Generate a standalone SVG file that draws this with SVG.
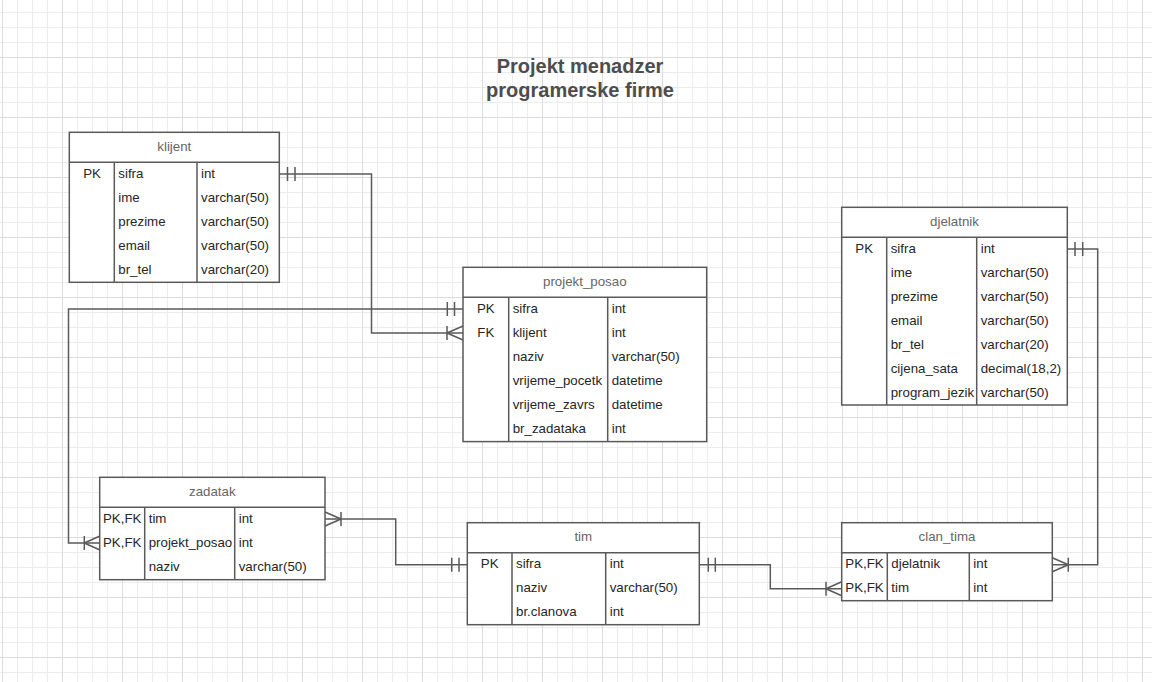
<svg xmlns="http://www.w3.org/2000/svg" width="1152" height="682" viewBox="0 0 1152 682">
<defs>
<pattern id="grid" x="2" y="-3" width="60" height="60" patternUnits="userSpaceOnUse">
<rect x="15" y="0" width="1" height="60" fill="#ececec"/>
<rect x="30" y="0" width="1" height="60" fill="#ececec"/>
<rect x="45" y="0" width="1" height="60" fill="#ececec"/>
<rect x="0" y="15" width="60" height="1" fill="#ececec"/>
<rect x="0" y="30" width="60" height="1" fill="#ececec"/>
<rect x="0" y="45" width="60" height="1" fill="#ececec"/>
<rect x="0" y="0" width="1" height="60" fill="#dcdcdc"/>
<rect x="0" y="0" width="60" height="1" fill="#dcdcdc"/>
</pattern>
</defs>
<style>
.box{fill:#fff;stroke:#5a5a5a;stroke-width:1.5}
.ln{fill:none;stroke:#5a5a5a;stroke-width:1.5}
.hd{font-family:"Liberation Sans",Arial,sans-serif;font-size:13.3px;fill:#666;text-anchor:middle}
.t{font-family:"Liberation Sans",Arial,sans-serif;font-size:13.3px;fill:#262626}
.k{font-family:"Liberation Sans",Arial,sans-serif;font-size:13.3px;fill:#262626;text-anchor:middle}
.title{font-family:"Liberation Sans",Arial,sans-serif;font-size:20px;font-weight:bold;fill:#4d4d4d;text-anchor:middle}
.c{fill:none;stroke:#5a5a5a;stroke-width:1.5}
</style>
<rect width="1152" height="682" fill="#fff"/>
<rect width="1152" height="682" fill="url(#grid)"/>

<text class="title" x="580" y="73">Projekt menadzer</text>
<text class="title" x="580" y="97">programerske firme</text>

<g id="connectors">
<path class="c" d="M279,174 H371.5 V333 H463"/>
<path class="c" d="M287.5,167 V181 M295,167 V181"/>
<path class="c" d="M447,326 V340 M447,333 L463,326 M447,333 L463,340"/>
<path class="c" d="M463,309 H68.5 V543 H100"/>
<path class="c" d="M447.3,302 V316 M454.5,302 V316"/>
<path class="c" d="M84.3,536 V550 M84.3,543 L100,536 M84.3,543 L100,550"/>
<path class="c" d="M325,519 H395.7 V564.7 H467.3"/>
<path class="c" d="M341,512 V526 M341,519 L325,512 M341,519 L325,526"/>
<path class="c" d="M451.7,557.7 V571.7 M459,557.7 V571.7"/>
<path class="c" d="M699.3,564.7 H770.3 V588.7 H841.7"/>
<path class="c" d="M708.3,557.7 V571.7 M715.3,557.7 V571.7"/>
<path class="c" d="M826,581.7 V595.7 M826,588.7 L841.7,581.7 M826,588.7 L841.7,595.7"/>
<path class="c" d="M1067.3,249 H1097.7 V564.7 H1052.3"/>
<path class="c" d="M1075,242 V256 M1082.7,242 V256"/>
<path class="c" d="M1068.3,557.7 V571.7 M1068.3,564.7 L1052.3,557.7 M1068.3,564.7 L1052.3,571.7"/>
</g>

<g id="klijent">
<rect class="box" x="69.3" y="132.3" width="210" height="150"/>
<path class="ln" d="M69.3,162.3 H279.3 M114.3,162.3 V282.3 M197,162.3 V282.3"/>
<text class="hd" x="174.3" y="150.7">klijent</text>
<text class="k" x="92" y="177.7">PK</text>
<text class="t" x="118.3" y="177.7">sifra</text><text class="t" x="201" y="177.7">int</text>
<text class="t" x="118.3" y="201.7">ime</text><text class="t" x="201" y="201.7">varchar(50)</text>
<text class="t" x="118.3" y="225.7">prezime</text><text class="t" x="201" y="225.7">varchar(50)</text>
<text class="t" x="118.3" y="249.7">email</text><text class="t" x="201" y="249.7">varchar(50)</text>
<text class="t" x="118.3" y="273.7">br_tel</text><text class="t" x="201" y="273.7">varchar(20)</text>
</g>

<g id="projekt_posao">
<rect class="box" x="463" y="267.3" width="243.7" height="174.3"/>
<path class="ln" d="M463,297.3 H706.7 M508.7,297.3 V441.6 M607.7,297.3 V441.6"/>
<text class="hd" x="584.8" y="285.7">projekt_posao</text>
<text class="k" x="485.8" y="313">PK</text>
<text class="k" x="485.8" y="337">FK</text>
<text class="t" x="512.7" y="313">sifra</text><text class="t" x="611.7" y="313">int</text>
<text class="t" x="512.7" y="337">klijent</text><text class="t" x="611.7" y="337">int</text>
<text class="t" x="512.7" y="361">naziv</text><text class="t" x="611.7" y="361">varchar(50)</text>
<text class="t" x="512.7" y="385">vrijeme_pocetk</text><text class="t" x="611.7" y="385">datetime</text>
<text class="t" x="512.7" y="409">vrijeme_zavrs</text><text class="t" x="611.7" y="409">datetime</text>
<text class="t" x="512.7" y="433">br_zadataka</text><text class="t" x="611.7" y="433">int</text>
</g>

<g id="djelatnik">
<rect class="box" x="841.7" y="207.3" width="225.6" height="197.7"/>
<path class="ln" d="M841.7,237.3 H1067.3 M886.7,237.3 V405 M976.7,237.3 V405"/>
<text class="hd" x="954.5" y="225.7">djelatnik</text>
<text class="k" x="864.2" y="252.7">PK</text>
<text class="t" x="890.7" y="252.7">sifra</text><text class="t" x="980.7" y="252.7">int</text>
<text class="t" x="890.7" y="276.7">ime</text><text class="t" x="980.7" y="276.7">varchar(50)</text>
<text class="t" x="890.7" y="300.7">prezime</text><text class="t" x="980.7" y="300.7">varchar(50)</text>
<text class="t" x="890.7" y="324.7">email</text><text class="t" x="980.7" y="324.7">varchar(50)</text>
<text class="t" x="890.7" y="348.7">br_tel</text><text class="t" x="980.7" y="348.7">varchar(20)</text>
<text class="t" x="890.7" y="372.7">cijena_sata</text><text class="t" x="980.7" y="372.7">decimal(18,2)</text>
<text class="t" x="890.7" y="396.7">program_jezik</text><text class="t" x="980.7" y="396.7">varchar(50)</text>
</g>

<g id="zadatak">
<rect class="box" x="99.7" y="477.3" width="225.3" height="102.4"/>
<path class="ln" d="M99.7,507.3 H325 M144.7,507.3 V579.7 M234.7,507.3 V579.7"/>
<text class="hd" x="212.3" y="495.7">zadatak</text>
<text class="k" x="122.2" y="522.7">PK,FK</text>
<text class="k" x="122.2" y="546.7">PK,FK</text>
<text class="t" x="148.7" y="522.7">tim</text><text class="t" x="238.7" y="522.7">int</text>
<text class="t" x="148.7" y="546.7">projekt_posao</text><text class="t" x="238.7" y="546.7">int</text>
<text class="t" x="148.7" y="570.7">naziv</text><text class="t" x="238.7" y="570.7">varchar(50)</text>
</g>

<g id="tim">
<rect class="box" x="467.3" y="522.7" width="232" height="102"/>
<path class="ln" d="M467.3,552.7 H699.3 M512,552.7 V624.7 M605.7,552.7 V624.7"/>
<text class="hd" x="583.3" y="541">tim</text>
<text class="k" x="489.7" y="568.3">PK</text>
<text class="t" x="516" y="568.3">sifra</text><text class="t" x="609.7" y="568.3">int</text>
<text class="t" x="516" y="592.3">naziv</text><text class="t" x="609.7" y="592.3">varchar(50)</text>
<text class="t" x="516" y="616.3">br.clanova</text><text class="t" x="609.7" y="616.3">int</text>
</g>

<g id="clan_tima">
<rect class="box" x="841.7" y="522.7" width="210.6" height="78"/>
<path class="ln" d="M841.7,552.7 H1052.3 M887.3,552.7 V600.7 M969.3,552.7 V600.7"/>
<text class="hd" x="947" y="541">clan_tima</text>
<text class="k" x="864.5" y="568.3">PK,FK</text>
<text class="k" x="864.5" y="592.3">PK,FK</text>
<text class="t" x="891.3" y="568.3">djelatnik</text><text class="t" x="973.3" y="568.3">int</text>
<text class="t" x="891.3" y="592.3">tim</text><text class="t" x="973.3" y="592.3">int</text>
</g>
</svg>
